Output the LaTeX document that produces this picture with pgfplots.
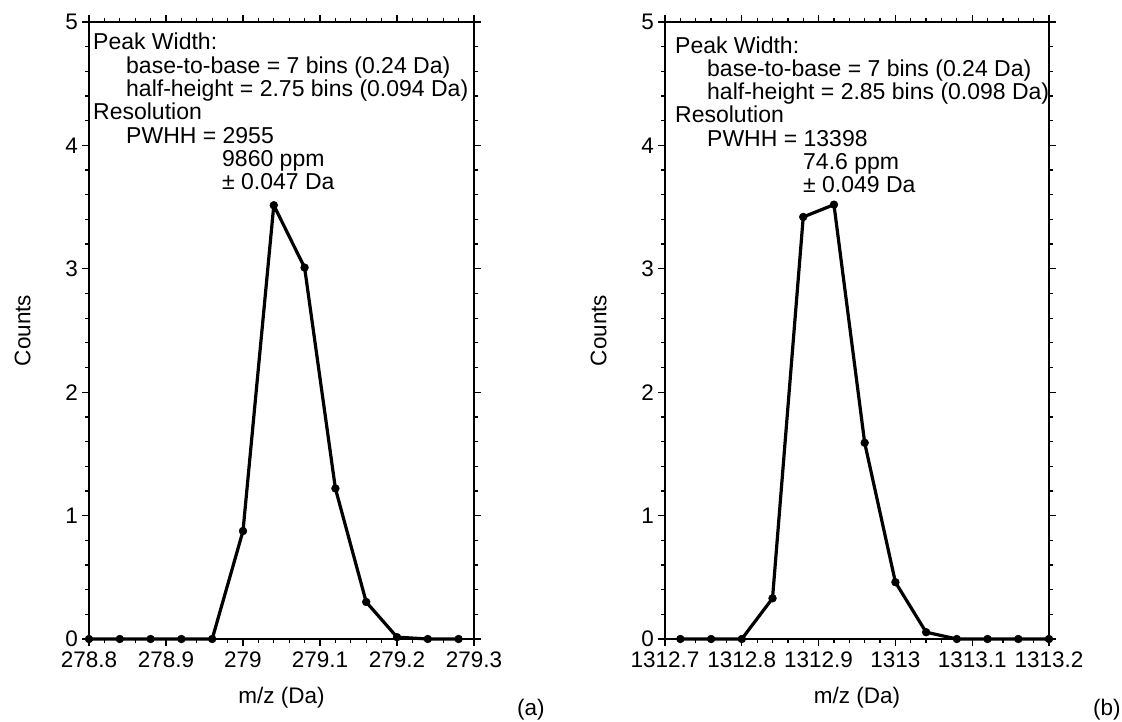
\documentclass[border=0pt]{standalone}
\usepackage{pgfplots}
\pgfplotsset{compat=1.18}
\usepackage{fontspec}
\setmainfont{Liberation Sans}
\newcommand\annfont{\fontsize{23}{23.3}\selectfont}
\pgfplotsset{
  peakaxis/.style={
    scale only axis,
    width=385pt, height=617pt,
    anchor=south west,
    ymin=0, ymax=5,
    ytick={0,1,2,3,4,5},
    minor x tick num=4,
    minor y tick num=4,
    tick pos=both,
    tick align=outside,
    xticklabel pos=left,
    yticklabel pos=left,
    major tick length=7pt,
    minor tick length=4pt,
    axis line style={line width=1.6pt},
    every tick/.style={black, line width=1.3pt},
    /pgf/number format/assume math mode=true,
    yticklabel style={inner xsep=4pt, inner ysep=0pt},
    xticklabel style={inner xsep=2pt, inner ysep=1pt, yshift=-5pt},
    clip=false,
    every axis y label/.style={at={(axis description cs:-0.1727,0.5)},rotate=90,anchor=center},
    every axis x label/.style={at={(axis description cs:0.5,-0.1053)},anchor=base},
    xlabel={m/z (Da)},
    ylabel={Counts},
  },
  peakline/.style={black, line width=3.2pt, mark=*, mark size=3.9pt, mark options={solid, fill=black, line width=0.5pt}, line join=round}
}
\begin{document}
\begin{tikzpicture}[font=\fontsize{22.5}{24}\selectfont]
\path[use as bounding box] (-89pt,-82pt) rectangle (1033pt,639pt);
\begin{axis}[peakaxis, at={(0pt,0pt)},
  xmin=278.8, xmax=279.3,
  xtick={278.8,278.9,279.0,279.1,279.2,279.3},
  xticklabels={278.8,278.9,279,279.1,279.2,279.3}]
\addplot[peakline] coordinates {
(278.80,0) (278.84,0) (278.88,0) (278.92,0) (278.96,0)
(279.00,0.875) (279.04,3.515) (279.08,3.01) (279.12,1.22)
(279.16,0.30) (279.20,0.015) (279.24,0) (279.28,0)};
\node[anchor=north west, align=left, inner sep=0pt, font=\annfont]
  at (axis description cs:0.0104,0.982)
  {Peak Width:\\
   \hspace*{33pt}base-to-base = 7 bins (0.24 Da)\\
   \hspace*{33pt}half-height = 2.75 bins (0.094 Da)\\
   Resolution\\
   \hspace*{33pt}PWHH = 2955\\
   \hspace*{129pt}9860 ppm\\
   \hspace*{129pt}\char"00B1\ 0.047 Da};
\end{axis}
\begin{axis}[peakaxis, at={(576pt,0pt)}, width=384pt,
  xmin=1312.7, xmax=1313.2,
  xtick={1312.7,1312.8,1312.9,1313.0,1313.1,1313.2},
  xticklabels={1312.7,1312.8,1312.9,1313,1313.1,1313.2}]
\addplot[peakline] coordinates {
(1312.72,0) (1312.76,0) (1312.80,0) (1312.84,0.33) (1312.88,3.42)
(1312.92,3.52) (1312.96,1.59) (1313.00,0.46) (1313.04,0.055)
(1313.08,0) (1313.12,0) (1313.16,0) (1313.20,0)};
\node[anchor=north west, align=left, inner sep=0pt, font=\annfont]
  at (axis description cs:0.026,0.977)
  {Peak Width:\\
   \hspace*{32pt}base-to-base = 7 bins (0.24 Da)\\
   \hspace*{32pt}half-height = 2.85 bins (0.098 Da)\\
   Resolution\\
   \hspace*{32pt}PWHH = 13398\\
   \hspace*{128pt}74.6 ppm\\
   \hspace*{128pt}\char"00B1\ 0.049 Da};
\end{axis}
\node[anchor=base west, inner sep=0pt] at (428pt,-76pt) {(a)};
\node[anchor=base west, inner sep=0pt] at (1004pt,-76pt) {(b)};
\end{tikzpicture}
\end{document}
